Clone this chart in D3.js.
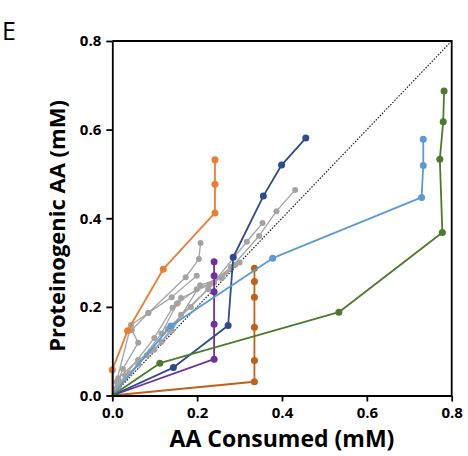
<!DOCTYPE html>
<html>
<head>
<meta charset="utf-8">
<script src="https://cdn.jsdelivr.net/npm/d3@7"></script>
<style>
  html, body { margin: 0; padding: 0; background: #fff; }
  svg { display: block; }
  text { font-family: "Open Sans", "Noto Sans", sans-serif; }
</style>
</head>
<body>
<svg id="chart" width="468" height="456"></svg>
<script>
// Axis ticks
const xTicks = [0, 0.2, 0.4, 0.6, 0.8];
const yTicks = [0, 0.2, 0.4, 0.6, 0.8];

// Coloured series: [AA consumed, proteinogenic AA] in mM
const orangeSeries = [[0, 0], [0, 0.058], [0.036, 0.146], [0.12, 0.285], [0.242, 0.412], [0.242, 0.477], [0.242, 0.532]];
const brownSeries  = [[0, 0], [0.335, 0.031], [0.335, 0.079], [0.335, 0.154], [0.335, 0.222], [0.335, 0.257], [0.335, 0.287]];
const purpleSeries = [[0, 0], [0.240, 0.082], [0.240, 0.161], [0.240, 0.234], [0.240, 0.270], [0.240, 0.302]];
const navySeries   = [[0, 0], [0.144, 0.063], [0.273, 0.158], [0.285, 0.312], [0.356, 0.450], [0.399, 0.520], [0.456, 0.581]];
const skySeries    = [[0, 0], [0.138, 0.157], [0.378, 0.310], [0.729, 0.447], [0.733, 0.519], [0.733, 0.578]];
const greenSeries  = [[0, 0], [0.112, 0.073], [0.534, 0.188], [0.778, 0.368], [0.772, 0.533], [0.780, 0.618], [0.782, 0.687]];

// Grey series
const grey1 = [[0, 0], [0.010, 0.031], [0.044, 0.159], [0.085, 0.186], [0.173, 0.267], [0.204, 0.308], [0.208, 0.344]];
const grey2 = [[0, 0], [0.014, 0.039], [0.061, 0.080], [0.099, 0.103], [0.140, 0.146], [0.207, 0.249], [0.258, 0.265], [0.346, 0.360], [0.387, 0.416], [0.431, 0.464]];
const grey3 = [[0, 0], [0.020, 0.030], [0.081, 0.091], [0.116, 0.121], [0.162, 0.182], [0.226, 0.240], [0.317, 0.347], [0.354, 0.389]];
const grey4 = [[0, 0], [0.025, 0.060], [0.061, 0.119], [0.046, 0.148], [0.085, 0.186], [0.140, 0.222], [0.199, 0.270]];
const grey5 = [[0, 0], [0.030, 0.045], [0.099, 0.130], [0.142, 0.198], [0.154, 0.208], [0.199, 0.240], [0.258, 0.265], [0.300, 0.300]];
const grey6 = [[0, 0], [0.015, 0.020], [0.061, 0.070], [0.116, 0.140], [0.152, 0.207], [0.162, 0.220], [0.229, 0.250], [0.280, 0.290]];
const grey7 = [[0, 0], [0.008, 0.015], [0.040, 0.050], [0.090, 0.100], [0.130, 0.150], [0.185, 0.200], [0.240, 0.255], [0.290, 0.295]];

const series = [
  { pts: grey1, color: "#A3A3A3", w: 1.3, r: 3 },
  { pts: grey2, color: "#A3A3A3", w: 1.3, r: 3 },
  { pts: grey3, color: "#A3A3A3", w: 1.3, r: 3 },
  { pts: grey4, color: "#A3A3A3", w: 1.3, r: 3 },
  { pts: grey5, color: "#A3A3A3", w: 1.3, r: 3 },
  { pts: grey6, color: "#A3A3A3", w: 1.3, r: 3 },
  { pts: grey7, color: "#A3A3A3", w: 1.3, r: 3 },
  { pts: orangeSeries, color: "#ED7D31", w: 1.8, r: 3.5 },
  { pts: brownSeries,  color: "#C0601A", w: 1.8, r: 3.5 },
  { pts: purpleSeries, color: "#7030A0", w: 1.8, r: 3.5 },
  { pts: navySeries,   color: "#2F4B8C", w: 1.8, r: 3.5 },
  { pts: skySeries,    color: "#5B9BD5", w: 1.8, r: 3.5 },
  { pts: greenSeries,  color: "#4F7A2E", w: 1.8, r: 3.5 }
];

const svg = d3.select("#chart");
const plotLeft = 112.3, plotRight = 451.7, plotTop = 41, plotBottom = 395.5;

const x = d3.scaleLinear().domain([0, 0.8]).range([plotLeft, plotRight]);
const y = d3.scaleLinear().domain([0, 0.8]).range([plotBottom, plotTop]);

// 1:1 reference line
svg.append("line")
  .attr("x1", x(0)).attr("y1", y(0))
  .attr("x2", x(0.8)).attr("y2", y(0.8))
  .attr("stroke", "#222").attr("stroke-width", 1.2)
  .attr("stroke-dasharray", "1.5,1.5");

const line = d3.line().x(d => x(d[0])).y(d => y(d[1]));

series.forEach(s => {
  const g = svg.append("g");
  g.append("path")
    .attr("d", line(s.pts))
    .attr("fill", "none")
    .attr("stroke", s.color)
    .attr("stroke-width", s.w)
    .attr("stroke-linejoin", "round");
  g.selectAll("circle")
    .data(s.pts.slice(1))
    .join("circle")
    .attr("cx", d => x(d[0]))
    .attr("cy", d => y(d[1]))
    .attr("r", s.r)
    .attr("fill", s.color);
});

// Frame: top and right edges
svg.append("path")
  .attr("d", `M${plotLeft},${plotTop}H${plotRight}V${plotBottom}`)
  .attr("fill", "none").attr("stroke", "#000").attr("stroke-width", 1.8);

// Axes
const xAxis = svg.append("g")
  .attr("transform", `translate(0,${plotBottom})`)
  .call(d3.axisBottom(x).tickValues(xTicks).tickFormat(d3.format(".1f")).tickSize(6).tickSizeOuter(0));
const yAxis = svg.append("g")
  .attr("transform", `translate(${plotLeft},0)`)
  .call(d3.axisLeft(y).tickValues(yTicks).tickFormat(d3.format(".1f")).tickSize(6).tickSizeOuter(0));

[xAxis, yAxis].forEach(a => {
  a.select(".domain").attr("stroke", "#000").attr("stroke-width", 1.8);
  a.selectAll(".tick line").attr("stroke", "#000").attr("stroke-width", 1.8);
  a.selectAll(".tick text")
    .attr("fill", "#000")
    .style("font-family", "'Open Sans', sans-serif")
    .style("font-size", "15px")
    .style("font-weight", "bold");
});
xAxis.selectAll(".tick text").attr("dy", "0.71em").attr("y", 12);
yAxis.selectAll(".tick text").attr("x", -11);

// Axis titles
svg.append("text")
  .attr("x", 282).attr("y", 447)
  .attr("text-anchor", "middle")
  .style("font-size", "23px").style("font-weight", "bold")
  .text("AA Consumed (mM)");

svg.append("text")
  .attr("transform", "translate(65,226) rotate(-90)")
  .attr("text-anchor", "middle")
  .style("font-size", "22px").style("font-weight", "bold")
  .text("Proteinogenic AA (mM)");

// Panel letter
svg.append("text")
  .attr("x", 2).attr("y", 40)
  .style("font-size", "25px")
  .text("E");
</script>
</body>
</html>
